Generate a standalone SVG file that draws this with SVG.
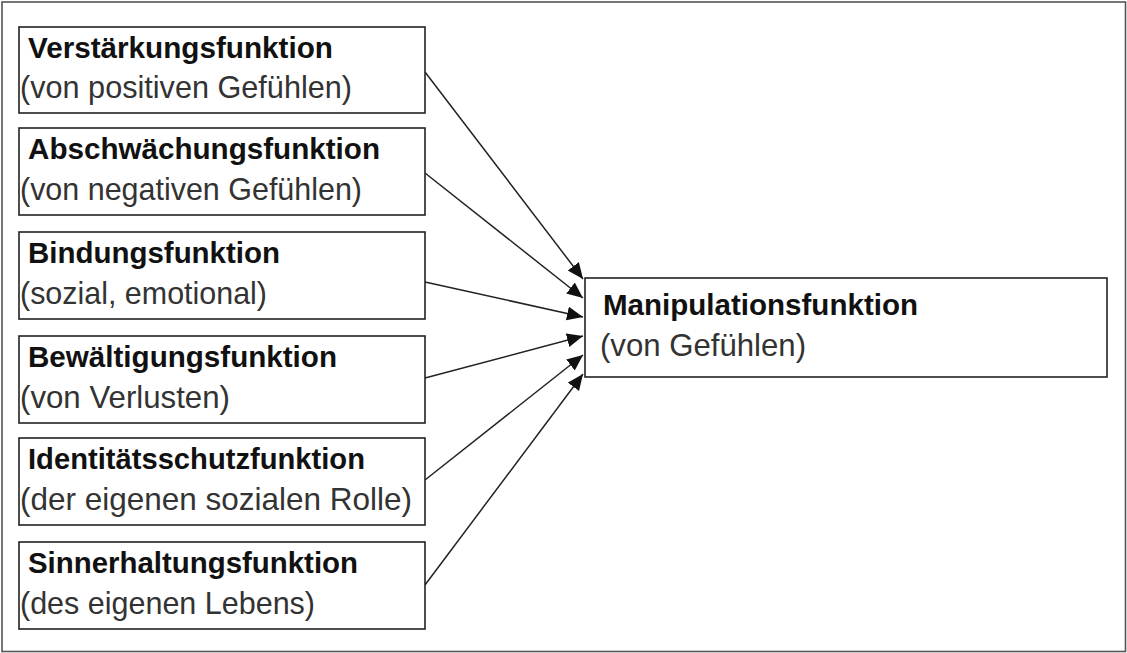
<svg xmlns="http://www.w3.org/2000/svg" width="1127" height="653" viewBox="0 0 1127 653">
<style>
.box{fill:#fff;stroke:#222;stroke-width:1.6}
.t{font-family:"Liberation Sans",Arial,sans-serif;font-size:30px;font-weight:bold;fill:#111}
.s{font-family:"Liberation Sans",Arial,sans-serif;font-size:30.5px;fill:#333}
.c{stroke:#222;stroke-width:1.5;fill:none}
</style>
<defs>
<marker id="ah" markerUnits="userSpaceOnUse" markerWidth="17" markerHeight="15" refX="16" refY="7" orient="auto">
<path d="M0,0 L16,7 L0,14 z" fill="#111"/>
</marker>
</defs>
<rect x="0" y="0" width="1127" height="653" fill="#fff"/>
<rect x="2" y="2" width="1123.5" height="649.5" fill="none" stroke="#555" stroke-width="1.6"/>
<g id="connectors">
<line class="c" x1="425" y1="72" x2="583" y2="279" marker-end="url(#ah)"/>
<line class="c" x1="425" y1="173" x2="583" y2="298" marker-end="url(#ah)"/>
<line class="c" x1="425" y1="282" x2="583" y2="317" marker-end="url(#ah)"/>
<line class="c" x1="425" y1="378" x2="583" y2="336" marker-end="url(#ah)"/>
<line class="c" x1="425" y1="480" x2="583" y2="355" marker-end="url(#ah)"/>
<line class="c" x1="425" y1="585" x2="583" y2="374" marker-end="url(#ah)"/>
</g>
<g id="n1">
<rect class="box" x="19" y="27" width="406" height="86"/>
<text class="t" x="28" y="58" textLength="305" lengthAdjust="spacingAndGlyphs">Verstärkungsfunktion</text>
<text class="s" x="20" y="98" textLength="332" lengthAdjust="spacingAndGlyphs">(von positiven Gefühlen)</text>
</g>
<g id="n2">
<rect class="box" x="19" y="128" width="406" height="87"/>
<text class="t" x="28" y="159" textLength="352" lengthAdjust="spacingAndGlyphs">Abschwächungsfunktion</text>
<text class="s" x="20" y="200" textLength="342" lengthAdjust="spacingAndGlyphs">(von negativen Gefühlen)</text>
</g>
<g id="n3">
<rect class="box" x="19" y="232" width="406" height="87"/>
<text class="t" x="28" y="263" textLength="252" lengthAdjust="spacingAndGlyphs">Bindungsfunktion</text>
<text class="s" x="20" y="304" textLength="247" lengthAdjust="spacingAndGlyphs">(sozial, emotional)</text>
</g>
<g id="n4">
<rect class="box" x="19" y="336" width="406" height="87"/>
<text class="t" x="28" y="367" textLength="309" lengthAdjust="spacingAndGlyphs">Bewältigungsfunktion</text>
<text class="s" x="20" y="408" textLength="210" lengthAdjust="spacingAndGlyphs">(von Verlusten)</text>
</g>
<g id="n5">
<rect class="box" x="19" y="438" width="406" height="87"/>
<text class="t" x="28" y="469" textLength="337" lengthAdjust="spacingAndGlyphs">Identitätsschutzfunktion</text>
<text class="s" x="20" y="510" textLength="392" lengthAdjust="spacingAndGlyphs">(der eigenen sozialen Rolle)</text>
</g>
<g id="n6">
<rect class="box" x="19" y="542" width="406" height="87"/>
<text class="t" x="28" y="573" textLength="330" lengthAdjust="spacingAndGlyphs">Sinnerhaltungsfunktion</text>
<text class="s" x="20" y="614" textLength="295" lengthAdjust="spacingAndGlyphs">(des eigenen Lebens)</text>
</g>
<g id="n7">
<rect class="box" x="585" y="278" width="522" height="99"/>
<text class="t" x="603" y="315" textLength="315" lengthAdjust="spacingAndGlyphs">Manipulationsfunktion</text>
<text class="s" x="600" y="356" textLength="206" lengthAdjust="spacingAndGlyphs">(von Gefühlen)</text>
</g>
</svg>
